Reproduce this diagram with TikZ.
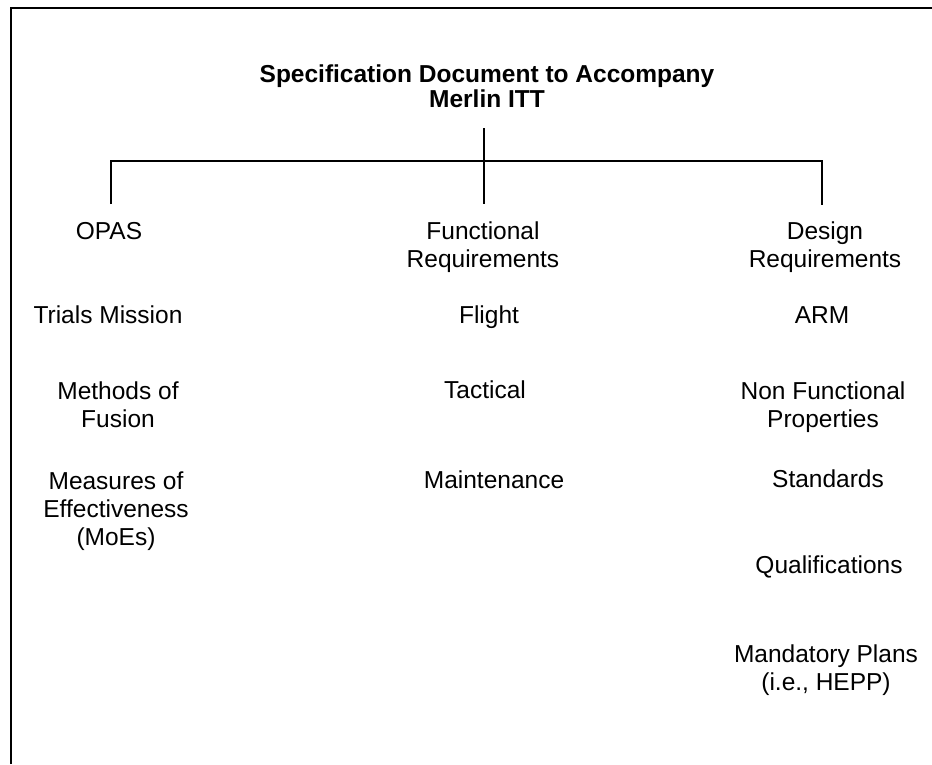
\documentclass[tikz,border=0pt]{standalone}
\usepackage{fontspec}
\setmainfont{Liberation Sans}
\usetikzlibrary{positioning}

\tikzset{
  item/.style={font=\fontsize{24.5}{28}\selectfont, align=center, inner sep=0pt, anchor=base},
  head/.style={font=\fontsize{24.5}{25}\selectfont\bfseries, align=center, inner sep=0pt, anchor=base},
  tree/.style={line width=2pt},
  frame/.style={line width=2.6pt}
}

\begin{document}
\begin{tikzpicture}[x=1pt,y=-1pt]
        \useasboundingbox (0,0) rectangle (932,764);
        \draw[frame] (11,764) -- (11,8) -- (932,8);
        % title (base = last line)
        \node[head] (spec) at (487,107) {Specification Document to Accompany\\Merlin ITT};
        % tree lines
        \coordinate (stem) at (484,128);
        \coordinate (stemfoot) at (484,204);
        \coordinate (lbar) at (111,161);
        \coordinate (lfoot) at (111,204);
        \coordinate (rbar) at (822,161);
        \coordinate (rfoot) at (822,205);
        \draw[tree] (stem) -- (stemfoot);
        \draw[tree] (lfoot) -- (lbar) -- (rbar) -- (rfoot);
        % left column
        \node[item] (opas) at (109,239) {OPAS};
        \node[item] (trials) at (108,323) {Trials Mission};
        \node[item] (fusion) at (118,427) {Methods of\\Fusion};
        \node[item] (moes) at (116,545) {Measures of\\Effectiveness\\(MoEs)};
        % middle column
        \node[item] (funreq) at (483,267) {Functional\\Requirements};
        \node[item] (flight) at (489,323) {Flight};
        \node[item] (tactical) at (485,398) {Tactical};
        \node[item] (maint) at (494,488) {Maintenance};
        % right column
        \node[item] (desreq) at (825,267) {Design\\Requirements};
        \node[item] (arm) at (822,323) {ARM};
        \node[item] (nonfun) at (823,427) {Non Functional\\Properties};
        \node[item] (stds) at (828,487) {Standards};
        \node[item] (quals) at (829,573) {Qualifications};
        \node[item] (plans) at (826,690) {Mandatory Plans\\(i.e., HEPP)};
    \end{tikzpicture}
\end{document}
